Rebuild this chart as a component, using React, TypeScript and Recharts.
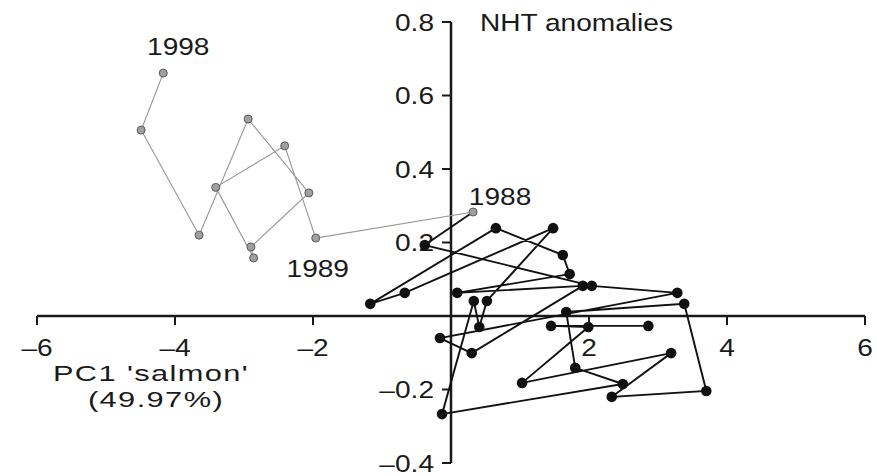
import { ScatterChart, Scatter, XAxis, YAxis, ReferenceLine, ReferenceDot } from 'recharts'

document.body.style.margin = '0'

const FONT = "'Liberation Sans', Arial, Helvetica, sans-serif"
const INK = '#1a1a1a'

const xTicks = [-6, -4, -2, 2, 4, 6]
const yTicks = [0.8, 0.6, 0.4, 0.2, -0.2, -0.4]

// 1988 onwards, drawn grey
const lateYears = [1988, 1989, 1990, 1991, 1992, 1993, 1994, 1995, 1996, 1997, 1998]
const latePc1 = [0.32, -1.96, -2.41, -3.41, -2.86, -2.9, -2.06, -2.94, -3.65, -4.49, -4.17]
const lateNht = [0.283, 0.212, 0.463, 0.35, 0.158, 0.188, 0.335, 0.536, 0.22, 0.506, 0.661]

// earlier years, drawn black
const earlyYears = [
  1960, 1961, 1962, 1963, 1964, 1965, 1966, 1967, 1968, 1969, 1970, 1971, 1972, 1973,
  1974, 1975, 1976, 1977, 1978, 1979, 1980, 1981, 1982, 1983, 1984, 1985, 1986, 1987,
]
const earlyPc1 = [
  2.86, 1.45, 1.99, 1.03, 3.19, 2.33, 3.7, 3.38, 1.67, 1.8, 2.49, -0.13, 0.33, 0.41,
  0.52, 1.48, -0.67, -1.17, 0.65, 1.62, 1.72, 0.09, 1.91, 0.3, -0.16, 3.28, 2.04, -0.38,
]
const earlyNht = [
  -0.027, -0.027, -0.03, -0.182, -0.101, -0.22, -0.204, 0.033, 0.011, -0.141, -0.185, -0.267, 0.041, -0.03,
  0.041, 0.239, 0.063, 0.033, 0.239, 0.166, 0.114, 0.063, 0.082, -0.101, -0.06, 0.063, 0.082, 0.193,
]

const late = lateYears.map((year, i) => ({ year, x: latePc1[i], y: lateNht[i] }))
const early = earlyYears.map((year, i) => ({ year, x: earlyPc1[i], y: earlyNht[i] }))
const bridge = [early[early.length - 1], late[0]]

const fmt = (v: number, digits: number) => (v < 0 ? '\u2013' : '') + Math.abs(v).toFixed(digits)

function StretchText({ x, y, anchor = 'start', size = 24, sx = 1.17, spacing = 0, children }: any) {
  return (
    <text
      transform={`translate(${x} ${y}) scale(${sx} 1)`}
      textAnchor={anchor}
      fontFamily={FONT}
      fontSize={size}
      letterSpacing={spacing}
      fill={INK}
    >
      {children}
    </text>
  )
}

const blackDot = (p: any) => <circle cx={p.cx} cy={p.cy} r={5.3} fill="#111" />
const greyDot = (p: any) => <circle cx={p.cx} cy={p.cy} r={4} fill="#a0a0a0" stroke="#5a5a5a" strokeWidth={1} />
const noDot = () => <g />

export default function App() {
  return (
    <div style={{ width: 877, height: 476, background: '#fff' }}>
      <ScatterChart width={877} height={476} margin={{ top: 22, right: 12, bottom: 13, left: 37 }}>
        <XAxis type="number" dataKey="x" domain={[-6, 6]} hide allowDataOverflow />
        <YAxis type="number" dataKey="y" domain={[-0.4, 0.8]} hide allowDataOverflow />

        <ReferenceLine y={0} stroke={INK} strokeWidth={2.5} />
        <ReferenceLine x={0} stroke={INK} strokeWidth={2.5} />

        {xTicks.map(v => (
          <ReferenceDot
            key={`x${v}`}
            x={v}
            y={0}
            r={0}
            shape={(p: any) => (
              <g>
                <line x1={p.cx} y1={p.cy} x2={p.cx} y2={p.cy + 9} stroke={INK} strokeWidth={2} />
                <StretchText x={p.cx} y={p.cy + 40} anchor="middle">{fmt(v, 0)}</StretchText>
              </g>
            )}
          />
        ))}
        {yTicks.map(v => (
          <ReferenceDot
            key={`y${v}`}
            x={0}
            y={v}
            r={0}
            shape={(p: any) => (
              <g>
                <line x1={p.cx - 9} y1={p.cy} x2={p.cx} y2={p.cy} stroke={INK} strokeWidth={2} />
                <StretchText x={p.cx - 17} y={p.cy + 8.5} anchor="end">{fmt(v, 1)}</StretchText>
              </g>
            )}
          />
        ))}

        <ReferenceDot
          x={0}
          y={0.8}
          r={0}
          shape={(p: any) => <StretchText x={p.cx + 29} y={p.cy + 9}>NHT anomalies</StretchText>}
        />
        <ReferenceDot
          x={-6}
          y={0}
          r={0}
          shape={(p: any) => (
            <g>
              <StretchText x={p.cx + 114} y={p.cy + 65} anchor="middle" size={22} sx={1.4} spacing={1}>
                PC1 'salmon'
              </StretchText>
              <StretchText x={p.cx + 119} y={p.cy + 91} anchor="middle" size={22} sx={1.4} spacing={1}>
                (49.97%)
              </StretchText>
            </g>
          )}
        />

        <Scatter data={early} line={{ stroke: '#111', strokeWidth: 1.9 }} shape={blackDot} isAnimationActive={false} />
        <Scatter data={bridge} line={{ stroke: '#111', strokeWidth: 1.9 }} shape={noDot} isAnimationActive={false} />
        <Scatter data={late} line={{ stroke: '#959595', strokeWidth: 1.1 }} shape={greyDot} isAnimationActive={false} />

        <ReferenceDot
          x={late[10].x}
          y={late[10].y}
          r={0}
          shape={(p: any) => <StretchText x={p.cx + 15} y={p.cy - 18} anchor="middle">{late[10].year}</StretchText>}
        />
        <ReferenceDot
          x={late[0].x}
          y={late[0].y}
          r={0}
          shape={(p: any) => <StretchText x={p.cx + 27} y={p.cy - 7} anchor="middle">{late[0].year}</StretchText>}
        />
        <ReferenceDot
          x={late[1].x}
          y={late[1].y}
          r={0}
          shape={(p: any) => <StretchText x={p.cx + 2} y={p.cy + 39} anchor="middle">{late[1].year}</StretchText>}
        />
      </ScatterChart>
    </div>
  )
}
